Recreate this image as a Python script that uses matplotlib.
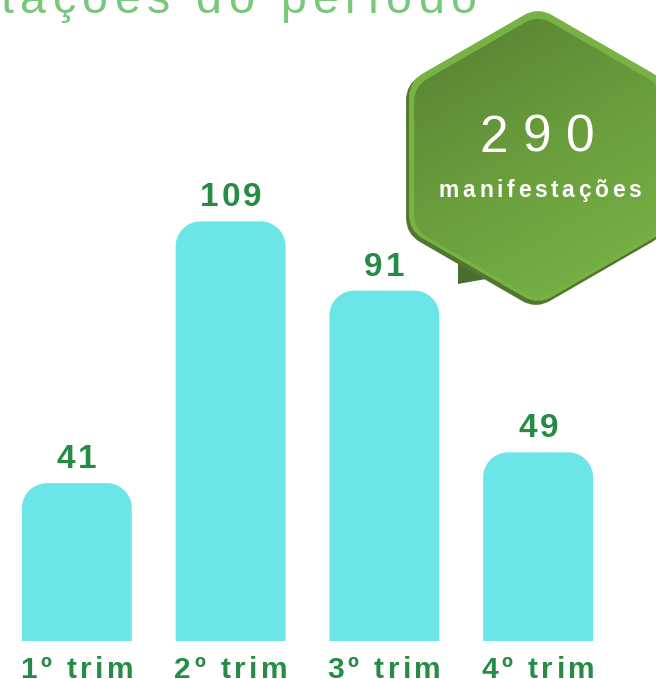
import matplotlib.pyplot as plt
import numpy as np
from matplotlib.path import Path
from matplotlib.patches import PathPatch, Polygon
from matplotlib.colors import LinearSegmentedColormap
from matplotlib.font_manager import FontProperties, findfont
from matplotlib.ft2font import FT2Font

DPI = 100
W, H = 656, 679

# data
quarters = ['1º trim', '2º trim', '3º trim', '4º trim']
counts = [41, 109, 91, 49]
total = 290
total_label = 'manifestações'
title = 'Manifestações do período'

BAR_COLOR = '#6BE5E8'
LABEL_GREEN = '#268C45'
TITLE_GREEN = '#78C879'


def spaced_text(ax, s, xy, size, spacing, dy=0, ha='center', family='Liberation Sans',
                weight='bold', color='k', zorder=5):
    # matplotlib has no letter spacing, so place the characters one by one
    font = FT2Font(findfont(FontProperties(family=family, weight=weight)))
    font.set_size(size, DPI)
    adv = [font.load_char(ord(c)).linearHoriAdvance / 65536 for c in s]
    width = sum(adv) + spacing * (len(s) - 1)
    x = {'left': 0, 'center': -width / 2, 'right': -width}[ha]
    for c, a in zip(s, adv):
        if c != ' ':
            ax.annotate(c, xy, xytext=(x, dy), textcoords='offset pixels',
                        ha='left', va='baseline', fontsize=size, family=family,
                        fontweight=weight, color=color, annotation_clip=False,
                        zorder=zorder)
        x += a + spacing


def rounded_hex(cx, cy, R, rc):
    ang = np.deg2rad(np.arange(90, 450, 60))
    pts = np.c_[cx + R * np.cos(ang), cy - R * np.sin(ang)]
    verts, codes = [], []
    n = len(pts)
    for i in range(n):
        p, prev, nxt = pts[i], pts[i - 1], pts[(i + 1) % n]
        a = p + (prev - p) / np.linalg.norm(prev - p) * rc
        b = p + (nxt - p) / np.linalg.norm(nxt - p) * rc
        verts += [a, p, b]
        codes += [Path.MOVETO if i == 0 else Path.LINETO, Path.CURVE3, Path.CURVE3]
    verts.append(verts[0])
    codes.append(Path.CLOSEPOLY)
    return Path(verts, codes)


fig = plt.figure(figsize=(W / DPI, H / DPI), dpi=DPI)

# bars
ax = fig.add_axes([0, 38 / H, 615 / W, 462 / H])
ax.set_xlim(-0.5, 3.5)
ax.set_ylim(0, 120)
ax.axis('off')

bar_w = 0.715
radius = 25  # px
px_x = ax.transData.transform((1, 0))[0] - ax.transData.transform((0, 0))[0]
px_y = ax.transData.transform((0, 1))[1] - ax.transData.transform((0, 0))[1]
rx, ry = radius / px_x, radius / px_y
t = np.linspace(0, np.pi / 2, 20)

for i, (q, v) in enumerate(zip(quarters, counts)):
    x0, x1 = i - bar_w / 2, i + bar_w / 2
    left = np.c_[x0 + rx - rx * np.cos(t), v - ry + ry * np.sin(t)]
    right = np.c_[x1 - rx + rx * np.sin(t), v - ry + ry * np.cos(t)]
    verts = np.vstack([[x0, 0], left, right, [x1, 0], [x0, 0]])
    ax.add_patch(PathPatch(Path(verts), facecolor=BAR_COLOR, edgecolor='none'))
    spaced_text(ax, str(v), (i, v), 24, 3, dy=15, color=LABEL_GREEN)
    spaced_text(ax, q, (i, 0), 21.5, 3.5, dy=-37, color=LABEL_GREEN)

# overlay in pixel coordinates: title and hexagon badge
ov = fig.add_axes([0, 0, 1, 1])
ov.axis('off')

spaced_text(ov, title, (477, 13), 33.5, 6.5, ha='right', weight='normal', color=TITLE_GREEN)

cx, cy = 538, 156
ov.add_patch(Polygon([(458, 250), (458, 284), (497, 277)], closed=True,
                     facecolor='#4A6C2E', edgecolor='none', zorder=1))
ov.add_patch(PathPatch(rounded_hex(cx - 2, cy + 3, 150, 16), facecolor='#50762F',
                       edgecolor='none', zorder=2))
ov.add_patch(PathPatch(rounded_hex(cx, cy, 149, 16), facecolor='#78B244',
                       edgecolor='none', zorder=3))
inner = PathPatch(rounded_hex(cx, cy + 2, 143, 15), facecolor='none', edgecolor='none', zorder=4)
ov.add_patch(inner)

gx, gy = np.meshgrid(np.linspace(0, 1, 200), np.linspace(0, 1, 200))
grad = 0.35 * gx + 0.65 * gy
cmap = LinearSegmentedColormap.from_list('badge', ['#557A31', '#6A9E3C', '#7CB849'])
im = ov.imshow(grad, extent=(390, 690, 310, 0), origin='upper', cmap=cmap,
               interpolation='bilinear', zorder=4)
im.set_clip_path(inner)

spaced_text(ov, str(total), (537, 152), 37, 15, weight='normal', color='white', zorder=6)
spaced_text(ov, total_label, (540, 197), 16.5, 3.6, weight='bold', color='white', zorder=6)

ov.set_aspect('auto')
ov.set_xlim(0, W)
ov.set_ylim(H, 0)

fig.savefig('out.png', dpi=DPI)
